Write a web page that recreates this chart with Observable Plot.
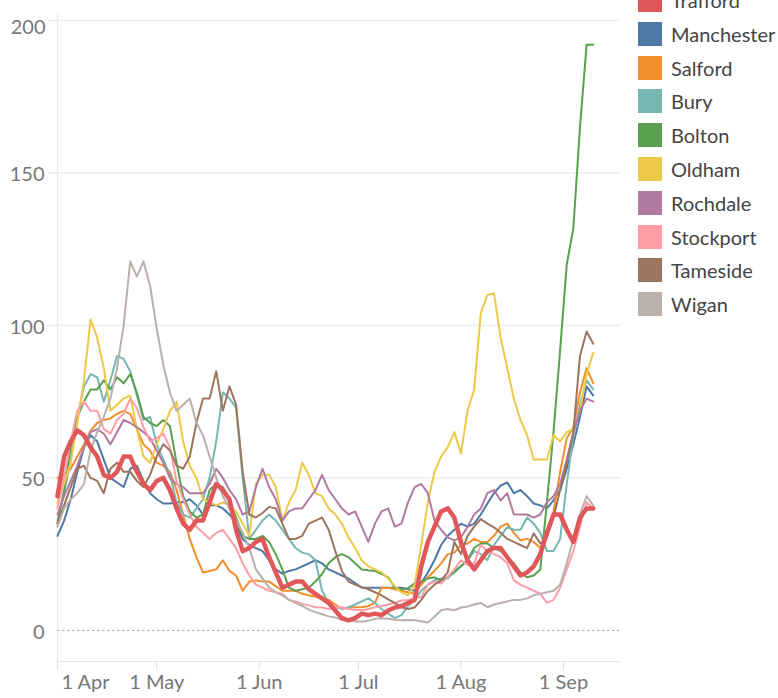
<!DOCTYPE html>
<html>
<head>
<meta charset="utf-8">
<script src="https://cdn.jsdelivr.net/npm/d3@7"></script>
<script src="https://cdn.jsdelivr.net/npm/@observablehq/plot@0.6"></script>
<style>
  html, body { margin: 0; padding: 0; background: #fff; overflow: hidden; }
  #wrap { position: relative; width: 778px; height: 698px; }
  #legend { position: absolute; left: 638px; top: 0; font-family: Lato, "Open Sans", sans-serif; }
  .item { position: absolute; left: 0; height: 24px; display: flex; align-items: center; white-space: nowrap; }
  .sw { width: 24px; height: 24px; margin-right: 9px; flex: none; }
  .lab { font-size: 20px; color: #444; line-height: 24px; }
</style>
</head>
<body>
<div id="wrap"><div id="legend"></div></div>
<script>
// ---- data (one value every 2 days from 1 Apr 2020) ----
const startDate = "2020-04-01";
const stepDays = 2;

const trafford = [
  44,57,62,65.6,64,60,57,51,50,52,
  57,57,52,48,46,49,50,46,40,35,
  33,36,36,42,48,46,43,33,26,27,
  29,30,24,19,14,15,16,16,13.5,12,
  10.5,9,6.5,4,3.3,4,5.5,5,5.5,5,
  6.5,7.5,8,9,10,21,29,34,39,40,
  37,29,23,20,23,26,27,27,24,21,
  18,19,21,25,32,38,38,33,29,37,
  40,40];
const manchester = [
  31,36,43,52,60,64,62,56,50,48.5,
  47,53,54,49,45,43,41.6,41.6,42,42,
  43,41,38,41,41,40,38,35,30,28,
  27,26,23,20,18.6,19.5,20,21,22,23,
  22,20,19,18,17,15.5,14,14,14,14,
  14,14,14,13.5,13,15.5,19,23,28,31,
  33,35,34,35,38,41.6,45,47.5,48.5,45,
  46,44,41.6,41,40,42.6,46,53,61,70,
  80,77];
const salford = [
  50,51,53,57,61,65.5,68,69,69.5,71,
  72,71,66,61,59,55,54,52,46,38,
  30,24,19,19.5,20,23,19.5,18,13,16,
  16.4,16,16,14.5,13,13,13,12,11.5,11,
  10.5,10,8.5,7,7.5,7.6,7.6,8,9,14,
  14,13.5,13,12.5,12,15,17.4,19.5,22,25,
  25.5,28,28.5,30,29,29,31,34,35,32,
  29.5,30,29,27,31,39,52,63,66.6,78,
  86,81];
const bury = [
  36,45,56,70,80,84,83,75,82,90,
  89,85,77,69,70,61,56,51,42,38,
  37,40,43,50,62,78,76,73,50,30,
  33,36,38,36,33,30,27,25.5,25,23,
  13,9,7.5,7.2,7.5,8.5,9.5,10.5,9,7,
  5.5,4,5,8,10,13,15,16.4,17,17,
  19.7,21,23,26,25,23,28,31,33.8,33,
  33,37,35,32,26,26,30,48,64,74,
  82,79];
const bolton = [
  35,46,60,70,75,79,79,82,79,83,
  81,84,78,70,68,67,69,67,55,44,
  39,37,38,46,48,47,43,37,31,30,
  30,31,29,25,20,14,13,13.5,14,16,
  18.5,22,24,25,24,22,20,19.7,19.5,18.5,
  17.4,14,13.5,13.8,15.4,16,17,17.4,16.4,17.5,
  19,21,23,27,28.5,28.5,27,26,24,22,
  19,17.4,18,20,42,65,92,120,132,165,
  192,192];
const oldham = [
  42,48,55,68,82,102,96,86,72,74,
  76,77,66,57,55,61,66,72,75,62,
  54,50,43,42,41,42,41,39,35,31,
  48,51,51,47,36,42,46,55,51,45,
  44,40,38,35,30.5,27,23,21,20,19,
  17,14.5,12.5,11.5,15,28,42,52,57,60,
  65,58,72,79,104,110,110.5,96,86,76,
  69,64,56,56,56,64,62,65,66,72,
  84,91];
const rochdale = [
  38,44,49,54,60,65,66,64.5,61,65,
  69,68,66.6,65,63,59,55,50,48,47,
  45,45,45,48,53,50,46,43,38,39,
  47,53,47,43,36,39,40,40,43,46,
  51,46,43,40,38,39,34,29,35,39,
  40,34,35,42,47,48,45,36,33,30.5,
  29.5,30.5,34,38,40,45,46,42.6,45,38,
  38,38,37,38,42,44,48,56,65,72,
  76,75];
const stockport = [
  40,50,62,72,75,72,72,66,64.5,69,
  71,76,73,66.6,62,63,64.5,60,49,43,
  38,34,32,30,32,33,30,27,22,18,
  15,14,13,12.5,12,10,9.5,8.7,8.2,7.6,
  7.5,7,7.5,7.6,7,6.8,6.6,7,7.6,8,
  8.5,9,9.8,10,10.5,11,15,16,15.4,17.5,
  20,23,21.5,22,28,26,25,24,22,16.4,
  15,14,13,12,9,10,14,20,26,34,
  42,40];
const tameside = [
  35,41,47,53,54,50,49,45,53,55,
  52,52,49,47,51,57,61,59,54,53,
  57,68,76,76,85,72,80,74,52,38,
  37,38.5,40.5,40,35,30,30,31,35,36,
  37,33,26,19.5,16,15,14.2,13.5,12.5,11.5,
  10.2,9,7.6,7,7.5,10,13,15,16.4,19,
  29,25,31,34,36.5,35,33.8,32,30,29,
  28,27,31.8,28.5,30.5,37,46,55,65,90,
  98,94];
const wigan = [
  34,40,43,45,48,59,65,70,76,86,
  100,121,116,121,113,99,87,78,72,74,
  76,68,64,57,50,44,40,36,32,27,
  20,17,14,12.5,11.5,10,9,8,6.8,6,
  5.3,4.6,4.2,3.5,3.2,3,2.8,3.2,3.8,4,
  3.8,3.5,3.3,3.4,3.3,3,2.6,4.5,6.6,7,
  6.6,7.5,7.8,8.5,9,7.6,8.5,9,9.5,10,
  10,10.5,11.5,12,12.5,13,15,22,30,38,
  44,41];

const names  = ["Trafford","Manchester","Salford","Bury","Bolton","Oldham","Rochdale","Stockport","Tameside","Wigan"];
const colors = ["#e15759","#4e79a7","#f28e2b","#76b7b2","#59a14f","#edc948","#b07aa1","#ff9da7","#9c755f","#bab0ac"];
const seriesValues = [trafford, manchester, salford, bury, bolton, oldham, rochdale, stockport, tameside, wigan];

const yTicks = [0, 50, 100, 150, 200];
const xTickDates  = ["2020-04-01","2020-05-01","2020-06-01","2020-07-01","2020-08-01","2020-09-01"];
const xTickLabels = ["1 Apr","1 May","1 Jun","1 Jul","1 Aug","1 Sep"];

// ---- build table ----
const start = new Date(startDate);
const rows = [];
names.forEach((n, i) => {
  seriesValues[i].forEach((v, j) => rows.push({name: n, date: d3.utcDay.offset(start, j * stepDays), value: v}));
});
const others = rows.filter(d => d.name !== "Trafford");
const main = rows.filter(d => d.name === "Trafford");
const xt = xTickDates.map(d => new Date(d));

const font = "Lato, 'Open Sans', sans-serif";
const chart = Plot.plot({
  width: 778,
  height: 698,
  marginLeft: 57,
  marginRight: 158,
  marginTop: 12,
  marginBottom: 37,
  style: {fontFamily: font, background: "#fff", overflow: "visible"},
  x: {type: "utc", domain: [new Date("2020-04-01"), new Date("2020-09-18T06:00Z")], axis: null},
  y: {type: "linear", domain: [-10.2, 202.6], axis: null},
  color: {domain: names, range: colors},
  marks: [
    Plot.ruleY(yTicks.filter(d => d > 0), {y: d => d, stroke: "#efefef", strokeWidth: 1.6, insetLeft: -9}),
    Plot.ruleY([-10.2], {y: d => d, stroke: "#e6e6e6", strokeWidth: 1.2}),
    Plot.ruleX([new Date("2020-04-01")], {x: d => d, stroke: "#ececec", strokeWidth: 1.2}),
    Plot.ruleX(xt, {x: d => d, y1: -10.2, y2: -13.2, stroke: "#e3e3e3", strokeWidth: 1.2}),
    Plot.ruleY([0], {y: d => d, stroke: "#aaa", strokeWidth: 1, strokeDasharray: "2.5,2.5"}),
    Plot.line(others, {x: "date", y: "value", z: "name", stroke: "name", strokeWidth: 2, strokeLinejoin: "round"}),
    Plot.line(main, {x: "date", y: "value", stroke: "name", strokeWidth: 4.5, strokeLinejoin: "round"}),
    Plot.text(yTicks.filter(d => d < 200), {y: d => d, text: d => String(d), frameAnchor: "left", textAnchor: "end", dx: -13, dy: 2, fontSize: 20, fill: "#777"}),
    Plot.text([200], {y: d => d, text: d => String(d), frameAnchor: "left", textAnchor: "end", dx: -12, dy: 7, fontSize: 20, fill: "#777"}),
    Plot.text([xTickLabels[0]], {x: () => xt[0], text: d => d, frameAnchor: "bottom", textAnchor: "start", dx: 4, dy: 27, fontSize: 20, fill: "#777"}),
    Plot.text(xTickLabels.slice(1), {x: (d, i) => xt[i + 1], text: d => d, frameAnchor: "bottom", dy: 27, fontSize: 20, fill: "#777"})
  ]
});
document.getElementById("wrap").prepend(chart);

// ---- legend ----
const legend = document.getElementById("legend");
names.forEach((n, i) => {
  const item = document.createElement("div");
  item.className = "item";
  item.style.top = (i * 33.8 - 12) + "px";
  const sw = document.createElement("div");
  sw.className = "sw";
  sw.style.background = colors[i];
  const lab = document.createElement("span");
  lab.className = "lab";
  lab.textContent = n;
  item.appendChild(sw);
  item.appendChild(lab);
  legend.appendChild(item);
});
</script>
</body>
</html>
